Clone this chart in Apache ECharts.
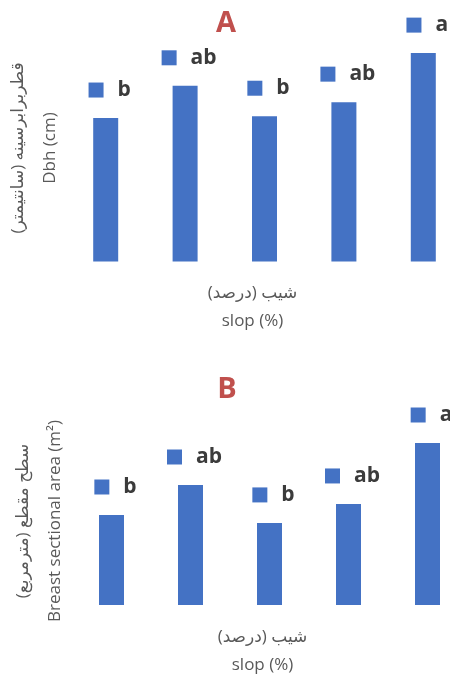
<!DOCTYPE html>
<html>
<head>
<meta charset="utf-8">
<script src="https://cdn.jsdelivr.net/npm/echarts@6/dist/echarts.min.js"></script>
<style>html,body{margin:0;padding:0;background:#fff}#c{width:450px;height:674px}</style>
</head>
<body>
<div id="c"></div>
<script>
var categories = ['Slope 1', 'Slope 2', 'Slope 3', 'Slope 4', 'Slope 5'];
var dbhValues = [31.6, 38.7, 32.0, 35.1, 45.9];
var dbhLetters = ['b', 'ab', 'b', 'ab', 'a'];
var areaValues = [0.375, 0.500, 0.342, 0.421, 0.675];
var areaLetters = ['b', 'ab', 'b', 'ab', 'a'];
var dbhMax = 50;
var areaMax = 0.7;

var FONT = "'Open Sans', 'DejaVu Sans', sans-serif";
var BLUE = '#4472C4';

function letterLabel(letters) {
  return {
    show: true,
    position: 'top',
    distance: 17,
    offset: [4, 0],
    formatter: function (p) { return '{sq|}{t|' + letters[p.dataIndex] + '}'; },
    rich: {
      sq: { width: 15, height: 15, backgroundColor: BLUE },
      t: { fontSize: 21, fontWeight: 'bold', color: '#3b3b3b', fontFamily: FONT, padding: [0, 0, 0, 14], lineHeight: 22 }
    }
  };
}

var chart = echarts.init(document.getElementById('c'), null, { renderer: 'canvas' });
chart.setOption({
  animation: false,
  backgroundColor: '#fff',
  title: [
    { text: 'A', left: 221, top: 4, textAlign: 'center', textStyle: { color: '#C0504D', fontSize: 29, fontWeight: 'bold', fontFamily: FONT } },
    { text: 'B', left: 222, top: 370, textAlign: 'center', textStyle: { color: '#C0504D', fontSize: 29, fontWeight: 'bold', fontFamily: FONT } }
  ],
  grid: [
    { left: 66, right: -13, top: 34.5, bottom: 412.5, outerBoundsMode: 'none', containLabel: false },
    { left: 72, right: -17, top: 437, bottom: 69, outerBoundsMode: 'none', containLabel: false }
  ],
  xAxis: [
    { gridIndex: 0, type: 'category', data: categories, boundaryGap: true,
      axisLine: { show: false }, axisTick: { show: false }, axisLabel: { show: false },
      name: 'شیب (درصد)\nslop (%)', nameLocation: 'middle', nameGap: 18,
      nameTextStyle: { fontSize: 17, color: '#595959', fontFamily: FONT, lineHeight: 28, padding: [0, 24, 0, 0], verticalAlign: 'top' } },
    { gridIndex: 1, type: 'category', data: categories, boundaryGap: true,
      axisLine: { show: false }, axisTick: { show: false }, axisLabel: { show: false },
      name: 'شیب (درصد)\nslop (%)', nameLocation: 'middle', nameGap: 18,
      nameTextStyle: { fontSize: 17, color: '#595959', fontFamily: FONT, lineHeight: 28, padding: [0, 14, 0, 0], verticalAlign: 'top' } }
  ],
  yAxis: [
    { gridIndex: 0, type: 'value', min: 0, max: dbhMax,
      axisLine: { show: false }, axisTick: { show: false }, axisLabel: { show: false }, splitLine: { show: false },
      name: 'قطربرابرسینه (سانتیمتر)\nDbh (cm)', nameLocation: 'middle', nameRotate: 90, nameGap: -0.5,
      nameTextStyle: { fontSize: 17, color: '#595959', fontFamily: FONT, lineHeight: 32 } },
    { gridIndex: 1, type: 'value', min: 0, max: areaMax,
      axisLine: { show: false }, axisTick: { show: false }, axisLabel: { show: false }, splitLine: { show: false },
      name: 'سطح مقطع (مترمربع)\nBreast sectional area (m²)', nameLocation: 'middle', nameRotate: 90, nameGap: 1,
      nameTextStyle: { fontSize: 17, color: '#595959', fontFamily: FONT, lineHeight: 32 } }
  ],
  series: [
    { type: 'bar', xAxisIndex: 0, yAxisIndex: 0, data: dbhValues, barWidth: 25,
      itemStyle: { color: BLUE }, label: letterLabel(dbhLetters) },
    { type: 'bar', xAxisIndex: 1, yAxisIndex: 1, data: areaValues, barWidth: 25,
      itemStyle: { color: BLUE }, label: letterLabel(areaLetters) }
  ]
});
</script>
</body>
</html>
